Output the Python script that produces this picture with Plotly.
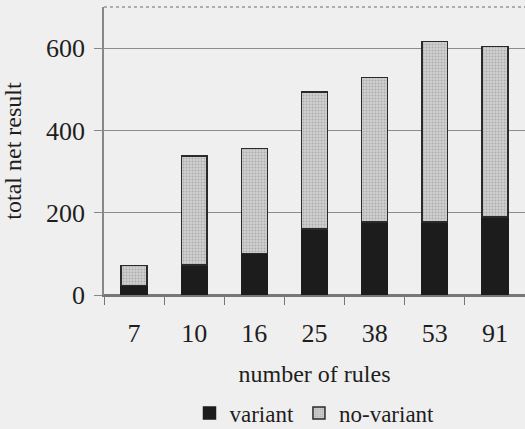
import plotly.graph_objects as go

# number of rules per rule set
rules = ["7", "10", "16", "25", "38", "53", "91"]
# total net result split into the two strategies
variant = [23, 73, 101, 160, 178, 178, 190]
no_variant = [49, 265, 255, 334, 351, 438, 414]

BG = "#efefef"
INK = "#1e1e1e"
FONT = "Liberation Serif"

fig = go.Figure()
fig.add_trace(go.Bar(
    x=rules, y=variant, name="variant",
    marker=dict(color="#1c1c1c", line=dict(color="#1c1c1c", width=1.5)),
))
fig.add_trace(go.Bar(
    x=rules, y=no_variant, name="no-variant",
    marker=dict(
        color="#c4c4c4",
        line=dict(color="#2a2a2a", width=1.5),
        pattern=dict(shape=".", fgcolor="#8a8a8a", bgcolor="#cfcfcf",
                     size=3, solidity=0.35),
    ),
))

fig.update_layout(
    width=525, height=429,
    barmode="stack", bargap=0.57,
    paper_bgcolor=BG, plot_bgcolor=BG,
    margin=dict(l=104, r=0, t=7, b=134, autoexpand=False),
    font=dict(family=FONT, color=INK, size=24),
    showlegend=True,
    legend=dict(
        orientation="h", x=0.5, xanchor="center", y=-0.41, yanchor="middle",
        font=dict(size=23, family=FONT, color=INK),
        bgcolor="rgba(0,0,0,0)", tracegroupgap=0,
        traceorder="normal",
    ),
    xaxis=dict(
        type="category", range=[-0.5, 6.5], automargin=False,
        tickson="boundaries", ticks="outside", ticklen=8,
        tickcolor="#777", tickwidth=1,
        tickfont=dict(size=26, family=FONT),
        ticklabelstandoff=14,
        title=dict(text="number of rules", font=dict(size=24, family=FONT), standoff=18),
        showline=True, linecolor="#777", linewidth=1.5,
        showgrid=False, mirror=False,
    ),
    yaxis=dict(
        range=[0, 700], tickvals=[0, 200, 400, 600], automargin=False,
        ticks="outside", ticklen=8, tickcolor="#888", tickwidth=1,
        tickfont=dict(size=26, family=FONT),
        ticklabelstandoff=4,
        title=dict(text="total net result", font=dict(size=24, family=FONT), standoff=20),
        showgrid=True, gridcolor="#8c8c8c", gridwidth=1,
        zeroline=True, zerolinecolor="#777", zerolinewidth=1.5,
        showline=True, linecolor="#888", linewidth=1.5,
    ),
)

# top border of the plot frame
fig.add_shape(type="line", xref="paper", yref="paper", x0=0, x1=1, y0=1, y1=1,
              line=dict(color="#999", width=1.5, dash="dot"))

fig.write_html("out.html")
